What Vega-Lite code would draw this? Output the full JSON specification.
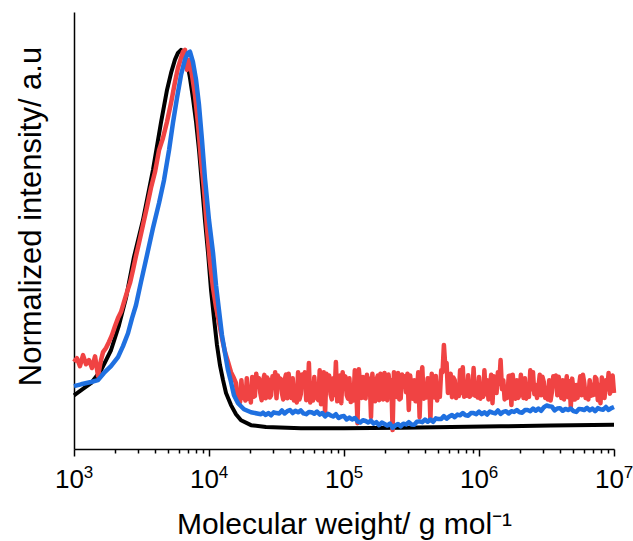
{
  "$schema": "https://vega.github.io/schema/vega-lite/v6.json",
  "autosize": {"type": "none"},
  "width": 540,
  "height": 437,
  "padding": {"left": 74, "top": 12, "right": 19, "bottom": 92},
  "background": "white",
  "config": {
    "view": {"stroke": null},
    "font": "Liberation Sans",
    "axis": {"grid": false, "domainColor": "#000000", "domainWidth": 1.5, "tickColor": "#000000", "tickWidth": 1.5, "labelColor": "#000000", "titleColor": "#000000", "titleFontWeight": "normal", "labelFont": "Liberation Sans", "titleFont": "Liberation Sans"}
  },
  "resolve": {"axis": {"x": "independent"}},
  "datasets": {
    "black": [
      {"logM": 3.000, "I": 0.087}, {"logM": 3.074, "I": 0.106}, {"logM": 3.126, "I": 0.119}, {"logM": 3.200, "I": 0.153},
      {"logM": 3.274, "I": 0.206}, {"logM": 3.333, "I": 0.272}, {"logM": 3.385, "I": 0.344}, {"logM": 3.444, "I": 0.452},
      {"logM": 3.511, "I": 0.550}, {"logM": 3.585, "I": 0.683}, {"logM": 3.644, "I": 0.807}, {"logM": 3.689, "I": 0.894},
      {"logM": 3.719, "I": 0.939}, {"logM": 3.748, "I": 0.974}, {"logM": 3.770, "I": 0.992}, {"logM": 3.793, "I": 1.000},
      {"logM": 3.815, "I": 0.995}, {"logM": 3.837, "I": 0.968}, {"logM": 3.859, "I": 0.926}, {"logM": 3.881, "I": 0.873},
      {"logM": 3.904, "I": 0.810}, {"logM": 3.926, "I": 0.735}, {"logM": 3.948, "I": 0.643}, {"logM": 3.970, "I": 0.550},
      {"logM": 3.993, "I": 0.463}, {"logM": 4.015, "I": 0.365}, {"logM": 4.037, "I": 0.291}, {"logM": 4.059, "I": 0.220},
      {"logM": 4.081, "I": 0.167}, {"logM": 4.104, "I": 0.127}, {"logM": 4.126, "I": 0.093}, {"logM": 4.163, "I": 0.061},
      {"logM": 4.200, "I": 0.037}, {"logM": 4.237, "I": 0.021}, {"logM": 4.311, "I": 0.008}, {"logM": 4.422, "I": 0.003},
      {"logM": 4.681, "I": 0.000}, {"logM": 5.000, "I": 0.000}, {"logM": 5.422, "I": 0.001}, {"logM": 5.793, "I": 0.003},
      {"logM": 6.163, "I": 0.005}, {"logM": 6.533, "I": 0.007}, {"logM": 7.000, "I": 0.009}
    ],
    "blue": [
      {"logM": 3.000, "I": 0.111}, {"logM": 3.052, "I": 0.116}, {"logM": 3.126, "I": 0.122}, {"logM": 3.178, "I": 0.127},
      {"logM": 3.222, "I": 0.146}, {"logM": 3.274, "I": 0.164}, {"logM": 3.326, "I": 0.188}, {"logM": 3.363, "I": 0.217},
      {"logM": 3.400, "I": 0.251}, {"logM": 3.430, "I": 0.291}, {"logM": 3.459, "I": 0.325}, {"logM": 3.496, "I": 0.386},
      {"logM": 3.541, "I": 0.458}, {"logM": 3.585, "I": 0.529}, {"logM": 3.630, "I": 0.595}, {"logM": 3.667, "I": 0.656},
      {"logM": 3.704, "I": 0.735}, {"logM": 3.733, "I": 0.807}, {"logM": 3.763, "I": 0.873}, {"logM": 3.793, "I": 0.934},
      {"logM": 3.822, "I": 0.974}, {"logM": 3.844, "I": 0.992}, {"logM": 3.859, "I": 0.995}, {"logM": 3.881, "I": 0.968},
      {"logM": 3.904, "I": 0.921}, {"logM": 3.926, "I": 0.854}, {"logM": 3.948, "I": 0.762}, {"logM": 3.970, "I": 0.661},
      {"logM": 4.000, "I": 0.550}, {"logM": 4.030, "I": 0.463}, {"logM": 4.052, "I": 0.378}, {"logM": 4.074, "I": 0.312},
      {"logM": 4.096, "I": 0.246}, {"logM": 4.119, "I": 0.198}, {"logM": 4.141, "I": 0.153}, {"logM": 4.163, "I": 0.122},
      {"logM": 4.185, "I": 0.087}, {"logM": 4.215, "I": 0.066}, {"logM": 4.259, "I": 0.050}, {"logM": 4.311, "I": 0.042},
      {"logM": 4.385, "I": 0.037},
      {"logM": 4.40, "I": 0.041}, {"logM": 4.42, "I": 0.035}, {"logM": 4.44, "I": 0.040}, {"logM": 4.46, "I": 0.034},
      {"logM": 4.48, "I": 0.042}, {"logM": 4.50, "I": 0.040}, {"logM": 4.52, "I": 0.039}, {"logM": 4.54, "I": 0.047},
      {"logM": 4.56, "I": 0.039}, {"logM": 4.58, "I": 0.045}, {"logM": 4.60, "I": 0.048}, {"logM": 4.62, "I": 0.040},
      {"logM": 4.64, "I": 0.046}, {"logM": 4.66, "I": 0.042}, {"logM": 4.68, "I": 0.047}, {"logM": 4.70, "I": 0.039},
      {"logM": 4.72, "I": 0.037}, {"logM": 4.74, "I": 0.043}, {"logM": 4.76, "I": 0.042}, {"logM": 4.78, "I": 0.038},
      {"logM": 4.80, "I": 0.044}, {"logM": 4.82, "I": 0.036}, {"logM": 4.84, "I": 0.040}, {"logM": 4.86, "I": 0.031},
      {"logM": 4.88, "I": 0.038}, {"logM": 4.90, "I": 0.034}, {"logM": 4.92, "I": 0.031}, {"logM": 4.94, "I": 0.037},
      {"logM": 4.96, "I": 0.027}, {"logM": 4.98, "I": 0.031}, {"logM": 5.00, "I": 0.032}, {"logM": 5.02, "I": 0.023},
      {"logM": 5.04, "I": 0.028}, {"logM": 5.06, "I": 0.023}, {"logM": 5.08, "I": 0.027}, {"logM": 5.10, "I": 0.018},
      {"logM": 5.12, "I": 0.015}, {"logM": 5.14, "I": 0.021}, {"logM": 5.16, "I": 0.019}, {"logM": 5.18, "I": 0.015},
      {"logM": 5.20, "I": 0.020}, {"logM": 5.22, "I": 0.012}, {"logM": 5.24, "I": 0.016}, {"logM": 5.26, "I": 0.008},
      {"logM": 5.28, "I": 0.015}, {"logM": 5.30, "I": 0.011}, {"logM": 5.32, "I": 0.007}, {"logM": 5.34, "I": 0.012},
      {"logM": 5.36, "I": 0.001}, {"logM": 5.38, "I": 0.007}, {"logM": 5.40, "I": 0.011}, {"logM": 5.42, "I": 0.005},
      {"logM": 5.44, "I": 0.012}, {"logM": 5.46, "I": 0.010}, {"logM": 5.48, "I": 0.016}, {"logM": 5.50, "I": 0.010},
      {"logM": 5.52, "I": 0.009}, {"logM": 5.54, "I": 0.017}, {"logM": 5.56, "I": 0.018}, {"logM": 5.58, "I": 0.016},
      {"logM": 5.60, "I": 0.023}, {"logM": 5.62, "I": 0.017}, {"logM": 5.64, "I": 0.023}, {"logM": 5.66, "I": 0.017},
      {"logM": 5.68, "I": 0.026}, {"logM": 5.70, "I": 0.024}, {"logM": 5.72, "I": 0.024}, {"logM": 5.74, "I": 0.032},
      {"logM": 5.76, "I": 0.025}, {"logM": 5.78, "I": 0.031}, {"logM": 5.80, "I": 0.035}, {"logM": 5.82, "I": 0.029},
      {"logM": 5.84, "I": 0.036}, {"logM": 5.86, "I": 0.034}, {"logM": 5.88, "I": 0.040}, {"logM": 5.90, "I": 0.034},
      {"logM": 5.92, "I": 0.033}, {"logM": 5.94, "I": 0.040}, {"logM": 5.96, "I": 0.040}, {"logM": 5.98, "I": 0.037},
      {"logM": 6.00, "I": 0.044}, {"logM": 6.02, "I": 0.037}, {"logM": 6.04, "I": 0.042}, {"logM": 6.06, "I": 0.036},
      {"logM": 6.08, "I": 0.044}, {"logM": 6.10, "I": 0.041}, {"logM": 6.12, "I": 0.039}, {"logM": 6.14, "I": 0.047},
      {"logM": 6.16, "I": 0.038}, {"logM": 6.18, "I": 0.043}, {"logM": 6.20, "I": 0.045}, {"logM": 6.22, "I": 0.039},
      {"logM": 6.24, "I": 0.045}, {"logM": 6.26, "I": 0.043}, {"logM": 6.28, "I": 0.048}, {"logM": 6.30, "I": 0.042},
      {"logM": 6.32, "I": 0.041}, {"logM": 6.34, "I": 0.048}, {"logM": 6.36, "I": 0.048}, {"logM": 6.38, "I": 0.045},
      {"logM": 6.40, "I": 0.052}, {"logM": 6.42, "I": 0.046}, {"logM": 6.44, "I": 0.052}, {"logM": 6.46, "I": 0.046},
      {"logM": 6.48, "I": 0.055}, {"logM": 6.50, "I": 0.060}, {"logM": 6.52, "I": 0.058}, {"logM": 6.54, "I": 0.057},
      {"logM": 6.56, "I": 0.047}, {"logM": 6.58, "I": 0.052}, {"logM": 6.60, "I": 0.053}, {"logM": 6.62, "I": 0.046},
      {"logM": 6.64, "I": 0.051}, {"logM": 6.66, "I": 0.048}, {"logM": 6.68, "I": 0.052}, {"logM": 6.70, "I": 0.045},
      {"logM": 6.72, "I": 0.043}, {"logM": 6.74, "I": 0.051}, {"logM": 6.76, "I": 0.050}, {"logM": 6.78, "I": 0.048},
      {"logM": 6.80, "I": 0.054}, {"logM": 6.82, "I": 0.047}, {"logM": 6.84, "I": 0.052}, {"logM": 6.86, "I": 0.045},
      {"logM": 6.88, "I": 0.053}, {"logM": 6.90, "I": 0.050}, {"logM": 6.92, "I": 0.049}, {"logM": 6.94, "I": 0.056},
      {"logM": 6.96, "I": 0.048}, {"logM": 6.98, "I": 0.053}, {"logM": 7.00, "I": 0.056}
    ],
    "red": [
      {"logM": 3.000, "I": 0.175}, {"logM": 3.022, "I": 0.185}, {"logM": 3.044, "I": 0.164}, {"logM": 3.067, "I": 0.193},
      {"logM": 3.089, "I": 0.169}, {"logM": 3.111, "I": 0.180}, {"logM": 3.133, "I": 0.159}, {"logM": 3.156, "I": 0.190},
      {"logM": 3.178, "I": 0.138}, {"logM": 3.200, "I": 0.180}, {"logM": 3.215, "I": 0.201}, {"logM": 3.237, "I": 0.212},
      {"logM": 3.259, "I": 0.228}, {"logM": 3.281, "I": 0.246}, {"logM": 3.304, "I": 0.270}, {"logM": 3.326, "I": 0.291},
      {"logM": 3.348, "I": 0.307}, {"logM": 3.370, "I": 0.333}, {"logM": 3.393, "I": 0.360}, {"logM": 3.415, "I": 0.384},
      {"logM": 3.437, "I": 0.418}, {"logM": 3.459, "I": 0.455}, {"logM": 3.481, "I": 0.489}, {"logM": 3.511, "I": 0.537},
      {"logM": 3.541, "I": 0.585}, {"logM": 3.570, "I": 0.635}, {"logM": 3.600, "I": 0.677}, {"logM": 3.630, "I": 0.735},
      {"logM": 3.659, "I": 0.767}, {"logM": 3.689, "I": 0.810}, {"logM": 3.719, "I": 0.860}, {"logM": 3.748, "I": 0.915},
      {"logM": 3.770, "I": 0.952}, {"logM": 3.793, "I": 0.979}, {"logM": 3.807, "I": 0.995}, {"logM": 3.822, "I": 1.000},
      {"logM": 3.837, "I": 0.947}, {"logM": 3.852, "I": 0.974}, {"logM": 3.874, "I": 0.934}, {"logM": 3.896, "I": 0.881},
      {"logM": 3.919, "I": 0.802}, {"logM": 3.941, "I": 0.709}, {"logM": 3.963, "I": 0.630}, {"logM": 3.985, "I": 0.529},
      {"logM": 4.007, "I": 0.439}, {"logM": 4.030, "I": 0.370}, {"logM": 4.052, "I": 0.320}, {"logM": 4.074, "I": 0.280},
      {"logM": 4.096, "I": 0.238}, {"logM": 4.119, "I": 0.201}, {"logM": 4.141, "I": 0.175}, {"logM": 4.163, "I": 0.148},
      {"logM": 4.185, "I": 0.132},
      {"logM": 4.20, "I": 0.119}, {"logM": 4.22, "I": 0.095}, {"logM": 4.24, "I": 0.127}, {"logM": 4.26, "I": 0.087},
      {"logM": 4.28, "I": 0.132}, {"logM": 4.30, "I": 0.101}, {"logM": 4.32, "I": 0.135}, {"logM": 4.34, "I": 0.085},
      {"logM": 4.36, "I": 0.116}, {"logM": 4.38, "I": 0.093}, {"logM": 4.40, "I": 0.124}, {"logM": 4.42, "I": 0.079},
      {"logM": 4.44, "I": 0.127}, {"logM": 4.46, "I": 0.087}, {"logM": 4.48, "I": 0.106}, {"logM": 4.50, "I": 0.079},
      {"logM": 4.52, "I": 0.116}, {"logM": 4.54, "I": 0.093}, {"logM": 4.56, "I": 0.127}, {"logM": 4.58, "I": 0.079},
      {"logM": 4.60, "I": 0.111}, {"logM": 4.62, "I": 0.132}, {"logM": 4.64, "I": 0.095}, {"logM": 4.66, "I": 0.148},
      {"logM": 4.68, "I": 0.090}, {"logM": 4.70, "I": 0.116}, {"logM": 4.72, "I": 0.074}, {"logM": 4.74, "I": 0.172},
      {"logM": 4.76, "I": 0.101}, {"logM": 4.78, "I": 0.135}, {"logM": 4.80, "I": 0.079}, {"logM": 4.82, "I": 0.153},
      {"logM": 4.84, "I": 0.095}, {"logM": 4.86, "I": 0.040}, {"logM": 4.88, "I": 0.114}, {"logM": 4.90, "I": 0.090},
      {"logM": 4.92, "I": 0.132}, {"logM": 4.94, "I": 0.175}, {"logM": 4.96, "I": 0.101}, {"logM": 4.98, "I": 0.066},
      {"logM": 5.00, "I": 0.114}, {"logM": 5.02, "I": 0.087}, {"logM": 5.04, "I": 0.132}, {"logM": 5.06, "I": 0.095},
      {"logM": 5.08, "I": 0.153}, {"logM": 5.10, "I": 0.013}, {"logM": 5.12, "I": 0.114}, {"logM": 5.14, "I": 0.135},
      {"logM": 5.16, "I": 0.079}, {"logM": 5.18, "I": 0.114}, {"logM": 5.20, "I": 0.029}, {"logM": 5.22, "I": 0.101},
      {"logM": 5.24, "I": 0.127}, {"logM": 5.26, "I": 0.074}, {"logM": 5.28, "I": 0.114}, {"logM": 5.30, "I": 0.146},
      {"logM": 5.32, "I": 0.074}, {"logM": 5.34, "I": 0.106}, {"logM": 5.36, "I": -0.005}, {"logM": 5.38, "I": 0.087},
      {"logM": 5.40, "I": 0.146}, {"logM": 5.42, "I": 0.079}, {"logM": 5.44, "I": 0.111}, {"logM": 5.46, "I": 0.095},
      {"logM": 5.48, "I": 0.048}, {"logM": 5.50, "I": 0.106}, {"logM": 5.52, "I": 0.127}, {"logM": 5.54, "I": 0.095},
      {"logM": 5.56, "I": 0.029}, {"logM": 5.58, "I": 0.161}, {"logM": 5.60, "I": 0.114}, {"logM": 5.62, "I": 0.132},
      {"logM": 5.64, "I": 0.021}, {"logM": 5.66, "I": 0.114}, {"logM": 5.68, "I": 0.138}, {"logM": 5.70, "I": 0.101},
      {"logM": 5.72, "I": 0.153}, {"logM": 5.74, "I": 0.220}, {"logM": 5.76, "I": 0.172}, {"logM": 5.78, "I": 0.114},
      {"logM": 5.80, "I": 0.082}, {"logM": 5.82, "I": 0.127}, {"logM": 5.84, "I": 0.106}, {"logM": 5.86, "I": 0.153},
      {"logM": 5.88, "I": 0.161}, {"logM": 5.90, "I": 0.114}, {"logM": 5.92, "I": 0.140}, {"logM": 5.94, "I": 0.087},
      {"logM": 5.96, "I": 0.159}, {"logM": 5.98, "I": 0.114}, {"logM": 6.00, "I": 0.135}, {"logM": 6.02, "I": 0.095},
      {"logM": 6.04, "I": 0.153}, {"logM": 6.06, "I": 0.127}, {"logM": 6.08, "I": 0.101}, {"logM": 6.10, "I": 0.066},
      {"logM": 6.12, "I": 0.127}, {"logM": 6.14, "I": 0.148}, {"logM": 6.16, "I": 0.180}, {"logM": 6.18, "I": 0.127},
      {"logM": 6.20, "I": 0.095}, {"logM": 6.22, "I": 0.138}, {"logM": 6.24, "I": 0.061}, {"logM": 6.26, "I": 0.101},
      {"logM": 6.28, "I": 0.127}, {"logM": 6.30, "I": 0.087}, {"logM": 6.32, "I": 0.108}, {"logM": 6.34, "I": 0.132},
      {"logM": 6.36, "I": 0.101}, {"logM": 6.38, "I": 0.153}, {"logM": 6.40, "I": 0.148}, {"logM": 6.42, "I": 0.114},
      {"logM": 6.44, "I": 0.108}, {"logM": 6.46, "I": 0.087}, {"logM": 6.48, "I": 0.122}, {"logM": 6.50, "I": 0.106},
      {"logM": 6.52, "I": 0.127}, {"logM": 6.54, "I": 0.095}, {"logM": 6.56, "I": 0.114}, {"logM": 6.58, "I": 0.087},
      {"logM": 6.60, "I": 0.116}, {"logM": 6.62, "I": 0.127}, {"logM": 6.64, "I": 0.101}, {"logM": 6.66, "I": 0.082},
      {"logM": 6.68, "I": 0.056}, {"logM": 6.70, "I": 0.101}, {"logM": 6.72, "I": 0.114}, {"logM": 6.74, "I": 0.108},
      {"logM": 6.76, "I": 0.087}, {"logM": 6.78, "I": 0.119}, {"logM": 6.80, "I": 0.101}, {"logM": 6.82, "I": 0.127},
      {"logM": 6.84, "I": 0.114}, {"logM": 6.86, "I": 0.135}, {"logM": 6.88, "I": 0.074}, {"logM": 6.90, "I": 0.066},
      {"logM": 6.92, "I": 0.106}, {"logM": 6.94, "I": 0.127}, {"logM": 6.96, "I": 0.146}, {"logM": 6.98, "I": 0.114},
      {"logM": 7.00, "I": 0.093},
      {"logM": 4.21, "I": 0.076}, {"logM": 4.23, "I": 0.069}, {"logM": 4.25, "I": 0.080}, {"logM": 4.27, "I": 0.073},
      {"logM": 4.29, "I": 0.078}, {"logM": 4.31, "I": 0.068}, {"logM": 4.33, "I": 0.083}, {"logM": 4.35, "I": 0.144},
      {"logM": 4.37, "I": 0.132}, {"logM": 4.39, "I": 0.074}, {"logM": 4.41, "I": 0.141}, {"logM": 4.43, "I": 0.134},
      {"logM": 4.45, "I": 0.081}, {"logM": 4.47, "I": 0.137}, {"logM": 4.49, "I": 0.148}, {"logM": 4.51, "I": 0.139},
      {"logM": 4.53, "I": 0.131}, {"logM": 4.55, "I": 0.076}, {"logM": 4.57, "I": 0.142}, {"logM": 4.59, "I": 0.144},
      {"logM": 4.61, "I": 0.080}, {"logM": 4.63, "I": 0.073}, {"logM": 4.65, "I": 0.068}, {"logM": 4.67, "I": 0.076},
      {"logM": 4.69, "I": 0.142}, {"logM": 4.71, "I": 0.148}, {"logM": 4.73, "I": 0.078}, {"logM": 4.75, "I": 0.068},
      {"logM": 4.77, "I": 0.073}, {"logM": 4.79, "I": 0.083}, {"logM": 4.81, "I": 0.074}, {"logM": 4.83, "I": 0.063},
      {"logM": 4.85, "I": 0.148}, {"logM": 4.87, "I": 0.144}, {"logM": 4.89, "I": 0.139}, {"logM": 4.91, "I": 0.076},
      {"logM": 4.93, "I": 0.088}, {"logM": 4.95, "I": 0.071}, {"logM": 4.97, "I": 0.139}, {"logM": 4.99, "I": 0.148},
      {"logM": 5.01, "I": 0.137}, {"logM": 5.03, "I": 0.078}, {"logM": 5.05, "I": 0.069}, {"logM": 5.07, "I": 0.073},
      {"logM": 5.09, "I": 0.114}, {"logM": 5.11, "I": 0.156}, {"logM": 5.13, "I": 0.080}, {"logM": 5.15, "I": 0.081},
      {"logM": 5.17, "I": 0.141}, {"logM": 5.19, "I": 0.131}, {"logM": 5.21, "I": 0.144}, {"logM": 5.23, "I": 0.071},
      {"logM": 5.25, "I": 0.139}, {"logM": 5.27, "I": 0.144}, {"logM": 5.29, "I": 0.076}, {"logM": 5.31, "I": 0.080},
      {"logM": 5.33, "I": 0.142}, {"logM": 5.35, "I": 0.127}, {"logM": 5.37, "I": 0.148}, {"logM": 5.39, "I": 0.083},
      {"logM": 5.41, "I": 0.076}, {"logM": 5.43, "I": 0.142}, {"logM": 5.45, "I": 0.137}, {"logM": 5.47, "I": 0.144},
      {"logM": 5.49, "I": 0.139}, {"logM": 5.51, "I": 0.078}, {"logM": 5.53, "I": 0.071}, {"logM": 5.55, "I": 0.148},
      {"logM": 5.57, "I": 0.131}, {"logM": 5.59, "I": 0.078}, {"logM": 5.61, "I": 0.081}, {"logM": 5.63, "I": 0.131},
      {"logM": 5.65, "I": 0.144}, {"logM": 5.67, "I": 0.081}, {"logM": 5.69, "I": 0.073}, {"logM": 5.71, "I": 0.083},
      {"logM": 5.73, "I": 0.148}, {"logM": 5.75, "I": 0.165}, {"logM": 5.77, "I": 0.093}, {"logM": 5.79, "I": 0.144},
      {"logM": 5.81, "I": 0.134}, {"logM": 5.83, "I": 0.080}, {"logM": 5.85, "I": 0.085}, {"logM": 5.87, "I": 0.093},
      {"logM": 5.89, "I": 0.083}, {"logM": 5.91, "I": 0.086}, {"logM": 5.93, "I": 0.083}, {"logM": 5.95, "I": 0.090},
      {"logM": 5.97, "I": 0.086}, {"logM": 5.99, "I": 0.081}, {"logM": 6.01, "I": 0.078}, {"logM": 6.03, "I": 0.083},
      {"logM": 6.05, "I": 0.090}, {"logM": 6.07, "I": 0.076}, {"logM": 6.09, "I": 0.141}, {"logM": 6.11, "I": 0.137},
      {"logM": 6.13, "I": 0.093}, {"logM": 6.15, "I": 0.117}, {"logM": 6.17, "I": 0.103}, {"logM": 6.19, "I": 0.076},
      {"logM": 6.21, "I": 0.080}, {"logM": 6.23, "I": 0.139}, {"logM": 6.25, "I": 0.141}, {"logM": 6.27, "I": 0.078},
      {"logM": 6.29, "I": 0.080}, {"logM": 6.31, "I": 0.141}, {"logM": 6.33, "I": 0.080}, {"logM": 6.35, "I": 0.078},
      {"logM": 6.37, "I": 0.083}, {"logM": 6.39, "I": 0.103}, {"logM": 6.41, "I": 0.090}, {"logM": 6.43, "I": 0.080},
      {"logM": 6.45, "I": 0.141}, {"logM": 6.47, "I": 0.136}, {"logM": 6.49, "I": 0.080}, {"logM": 6.51, "I": 0.076},
      {"logM": 6.53, "I": 0.073}, {"logM": 6.55, "I": 0.137}, {"logM": 6.57, "I": 0.139}, {"logM": 6.59, "I": 0.136},
      {"logM": 6.61, "I": 0.080}, {"logM": 6.63, "I": 0.076}, {"logM": 6.65, "I": 0.137}, {"logM": 6.67, "I": 0.124},
      {"logM": 6.69, "I": 0.131}, {"logM": 6.71, "I": 0.076}, {"logM": 6.73, "I": 0.080}, {"logM": 6.75, "I": 0.137},
      {"logM": 6.77, "I": 0.141}, {"logM": 6.79, "I": 0.080}, {"logM": 6.81, "I": 0.076}, {"logM": 6.83, "I": 0.086},
      {"logM": 6.85, "I": 0.088}, {"logM": 6.87, "I": 0.131}, {"logM": 6.89, "I": 0.114}, {"logM": 6.91, "I": 0.134},
      {"logM": 6.93, "I": 0.080}, {"logM": 6.95, "I": 0.103}, {"logM": 6.97, "I": 0.091}, {"logM": 6.99, "I": 0.139}
    ]
  },
  "layer": [
    {
      "data": {"name": "black"},
      "mark": {"type": "line", "color": "#000000", "strokeWidth": 4, "strokeJoin": "round"},
      "encoding": {
        "x": {
          "field": "logM", "type": "quantitative",
          "scale": {"domain": [3, 7], "nice": false, "zero": false},
          "axis": {
            "orient": "bottom",
            "values": [3, 4, 5, 6, 7],
            "labelExpr": "'10'",
            "tickSize": 7,
            "labelFontSize": 26,
            "labelBaseline": "alphabetic",
            "labelAlign": "center",
            "labelOffset": -5,
            "labelPadding": 31,
            "labelOverlap": false,
            "labelFlush": false,
            "title": "Molecular weight/ g mol⁻¹",
            "titleFontSize": 30,
            "titleBaseline": "alphabetic",
            "titleY": 84
          }
        },
        "y": {
          "field": "I", "type": "quantitative",
          "scale": {"domain": [-0.055, 1.1], "nice": false, "zero": false},
          "axis": {
            "ticks": false, "labels": false,
            "title": "Normalized intensity/ a.u",
            "titleFontSize": 31,
            "titleBaseline": "alphabetic",
            "titleX": -34,
            "titleY": 204
          }
        }
      }
    },
    {
      "data": {"name": "red"},
      "mark": {"type": "line", "color": "#F04343", "strokeWidth": 4.5, "strokeJoin": "round"},
      "encoding": {
        "x": {
          "field": "logM", "type": "quantitative",
          "axis": {
            "orient": "bottom",
            "domain": false,
            "values": [3.301, 3.477, 3.602, 3.699, 3.778, 3.845, 3.903, 3.954,
                       4.301, 4.477, 4.602, 4.699, 4.778, 4.845, 4.903, 4.954,
                       5.301, 5.477, 5.602, 5.699, 5.778, 5.845, 5.903, 5.954,
                       6.301, 6.477, 6.602, 6.699, 6.778, 6.845, 6.903, 6.954],
            "labels": false,
            "tickSize": 4,
            "title": null
          }
        },
        "y": {"field": "I", "type": "quantitative"}
      }
    },
    {
      "data": {"name": "blue"},
      "mark": {"type": "line", "color": "#1F70E0", "strokeWidth": 4.5, "strokeJoin": "round"},
      "encoding": {
        "x": {
          "field": "logM", "type": "quantitative",
          "axis": {
            "orient": "bottom",
            "domain": false,
            "ticks": false,
            "tickSize": 0,
            "values": [3, 4, 5, 6, 7],
            "labelExpr": "format(datum.value, 'd')",
            "labelFontSize": 17,
            "labelBaseline": "alphabetic",
            "labelAlign": "center",
            "labelOffset": 14,
            "labelPadding": 28,
            "labelOverlap": false,
            "labelFlush": false,
            "title": null
          }
        },
        "y": {"field": "I", "type": "quantitative"}
      }
    }
  ]
}
